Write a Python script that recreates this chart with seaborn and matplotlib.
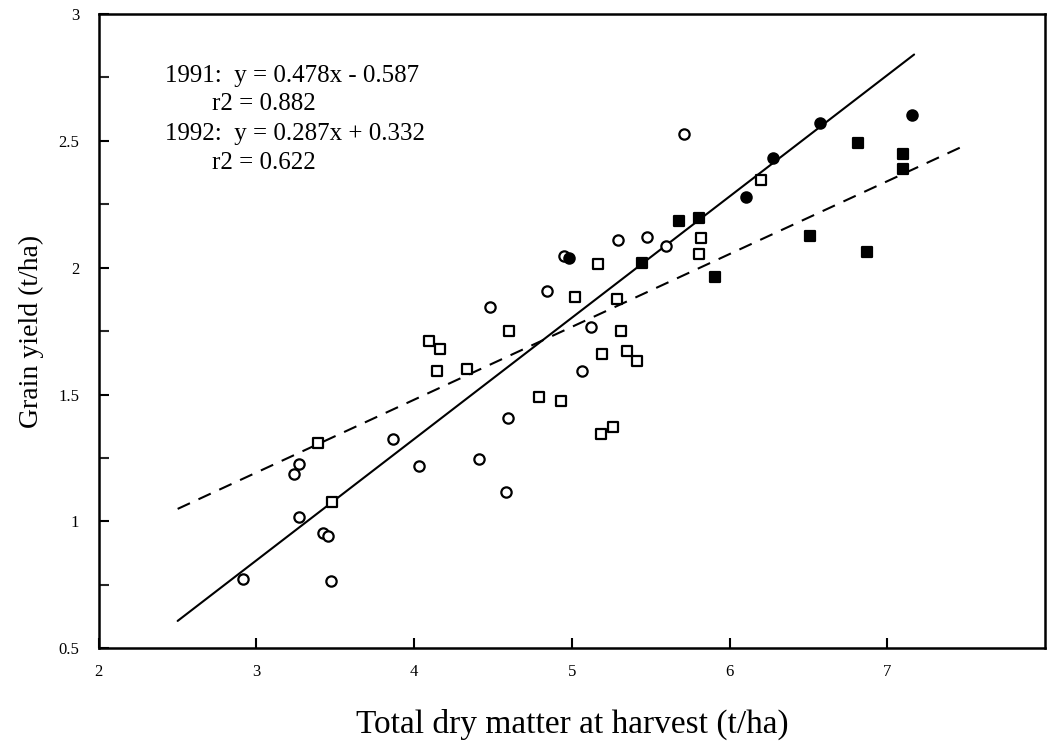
import numpy as np
import pandas as pd
import matplotlib
matplotlib.use("Agg")
import matplotlib.pyplot as plt
from matplotlib.ticker import MultipleLocator
import seaborn as sns

# ---- data ----
# 1991, open circles
x91_open = [2.913, 3.272, 3.236, 3.272, 3.420, 3.451, 3.472, 3.863, 4.032, 4.408,
            4.592, 4.585, 4.482, 4.845, 5.120, 5.061, 5.295, 5.475, 5.595, 5.712, 4.951]
y91_open = [0.773, 1.225, 1.186, 1.016, 0.955, 0.944, 0.765, 1.325, 1.218, 1.246,
            1.409, 1.116, 1.846, 1.909, 1.767, 1.594, 2.109, 2.122, 2.087, 2.527, 2.046]
# 1991, filled circles
x91_fill = [4.983, 6.106, 6.273, 6.571, 7.154]
y91_fill = [2.037, 2.277, 2.434, 2.572, 2.602]
# 1992, open squares
x92_open = [3.388, 3.477, 4.091, 4.165, 4.142, 4.334, 4.603, 4.793, 4.930, 5.018, 5.167,
            5.194, 5.183, 5.259, 5.289, 5.310, 5.352, 5.411, 5.817, 5.807, 6.202]
y92_open = [1.310, 1.075, 1.711, 1.680, 1.592, 1.602, 1.752, 1.492, 1.473, 1.886, 2.013,
            1.661, 1.345, 1.373, 1.875, 1.752, 1.673, 1.633, 2.116, 2.054, 2.346]
# 1992, filled squares
x92_fill = [5.447, 5.676, 5.807, 5.908, 6.508, 6.814, 6.873, 7.100, 7.100]
y92_fill = [2.017, 2.183, 2.195, 1.965, 2.125, 2.490, 2.063, 2.449, 2.390]

# regression lines
slopes = [0.478, 0.287]
intercepts = [-0.587, 0.332]
line_xrange = [[2.5, 7.17], [2.5, 7.5]]

eq_labels = ["1991:  y = 0.478x - 0.587", "r2 = 0.882",
             "1992:  y = 0.287x + 0.332", "r2 = 0.622"]
x_ticks = [2, 3, 4, 5, 6, 7]
y_ticks = [0.5, 1, 1.5, 2, 2.5, 3]
x_label = "Total dry matter at harvest (t/ha)"
y_label = "Grain yield (t/ha)"

# ---- plotting ----
sns.set_theme(style="white")
plt.rcParams['font.family'] = ['Liberation Serif', 'DejaVu Serif']

fig = plt.figure(figsize=(10.51, 7.44), dpi=100)
ax = fig.add_axes([0.094, 0.1286, 0.9003, 0.8526])

common = dict(linewidth=1.6, edgecolor="black", ax=ax, legend=False, zorder=3)
sns.scatterplot(x=x91_open, y=y91_open, marker="o", s=55, facecolor="white", **common)
sns.scatterplot(x=x91_fill, y=y91_fill, marker="o", s=55, color="black", **common)
sns.scatterplot(x=x92_open, y=y92_open, marker="s", s=58, facecolor="white", **common)
sns.scatterplot(x=x92_fill, y=y92_fill, marker="s", s=58, color="black", **common)

styles = ["-", "--"]
for m, b, xr, ls in zip(slopes, intercepts, line_xrange, styles):
    xs = np.array(xr)
    df = pd.DataFrame({"x": xs, "y": m * xs + b})
    sns.lineplot(data=df, x="x", y="y", ax=ax, color="black", linewidth=1.5,
                 linestyle=ls, zorder=2)
ax.lines[-1].set_dashes((6.5, 4.5))

ax.set_xlim(2, 8)
ax.set_ylim(0.5, 3)
ax.set_xticks(x_ticks)
ax.set_xticklabels([str(t) for t in x_ticks])
ax.set_yticks(y_ticks)
ax.set_yticklabels([f"{t:g}" for t in y_ticks])
ax.yaxis.set_minor_locator(MultipleLocator(0.25))

ax.tick_params(axis="both", which="major", direction="in", length=7, width=1.5,
               labelsize=12, color="black", labelcolor="black")
ax.tick_params(axis="x", pad=11)
ax.tick_params(axis="y", pad=14)
ax.tick_params(axis="y", which="minor", direction="in", length=7, width=1.5, left=True)
ax.tick_params(bottom=True, left=True, top=False, right=False)

for sp in ax.spines.values():
    sp.set_color("black")
    sp.set_linewidth(1.8)

ax.set_xlabel(x_label, fontsize=24, labelpad=21, color="black")
ax.set_ylabel(y_label, fontsize=20, labelpad=10, color="black")

text_pos = [(2.42, 2.756), (2.72, 2.645), (2.42, 2.527), (2.72, 2.412)]
for (tx, ty), s in zip(text_pos, eq_labels):
    ax.text(tx, ty, s, fontsize=18, va="center", ha="left", color="black")

fig.savefig("out.png", dpi=100)
